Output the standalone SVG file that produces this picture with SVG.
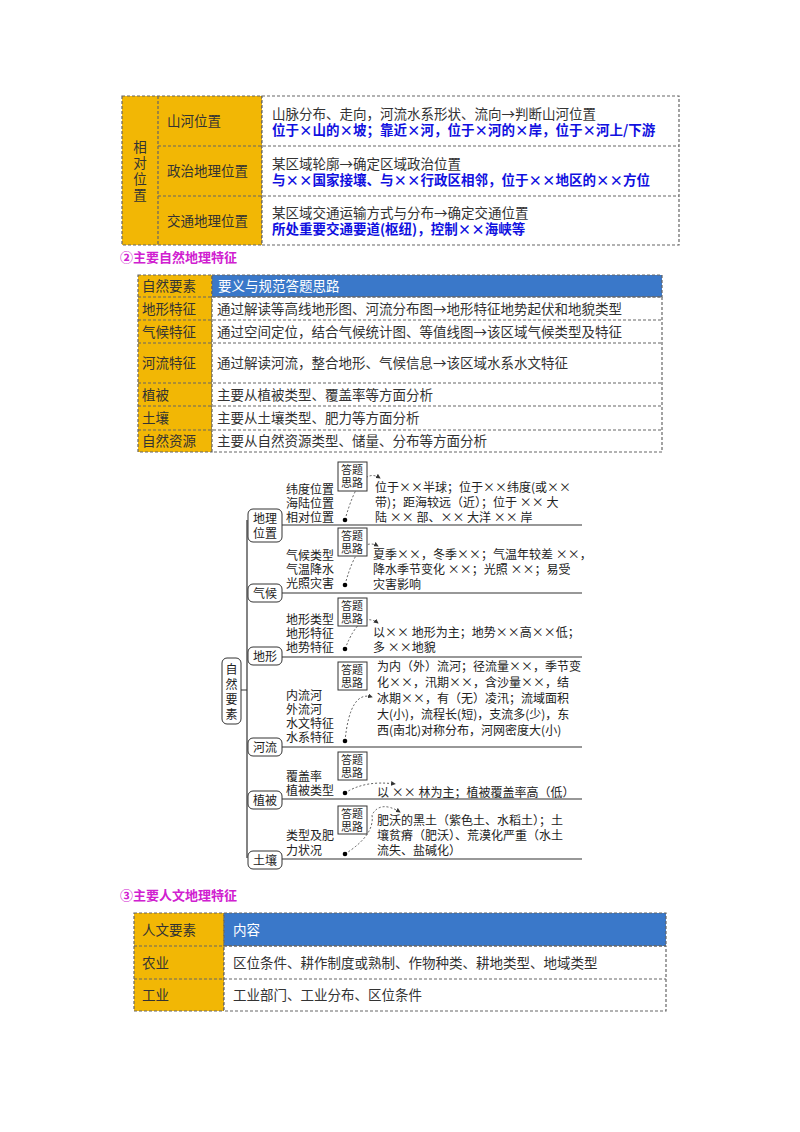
<svg xmlns="http://www.w3.org/2000/svg" width="800" height="1132" viewBox="0 0 800 1132">
<style>
text{font-family:"Noto Sans CJK SC","Liberation Serif",serif;}
.c{stroke:#666;stroke-width:1.2;stroke-dasharray:3,2;}
.y{fill:#F2B705;}
.w{fill:#fff;}
.b{fill:#3A78C9;}
.t{font-size:13.5px;fill:#333;}
.bl{font-size:13.5px;fill:#1010E0;font-weight:bold;}
.h{font-size:13px;fill:#D020D0;font-weight:bold;}
.m{font-size:12px;fill:#222;}
.s{font-size:11px;fill:#222;}
.k{fill:#fff;stroke:#333;stroke-width:1;}
.ln{stroke:#333;stroke-width:1.2;fill:none;}
.d{stroke:#333;stroke-width:0.8;stroke-dasharray:2,2;fill:none;}
</style>
<defs><marker id="a" markerWidth="6" markerHeight="6" refX="5" refY="3" orient="auto"><path d="M0,0L6,3L0,6z" fill="#333"/></marker></defs>
<g id="table1">
<rect x="122" y="96" width="140" height="149" class="y c"/>
<line x1="158" y1="96" x2="158" y2="245" class="c"/>
<rect x="262" y="96" width="417" height="149" class="w c"/>
<line x1="158" y1="146" x2="679" y2="146" class="c"/>
<line x1="158" y1="196" x2="679" y2="196" class="c"/>
<text class="t" x="140" y="152" text-anchor="middle">相</text>
<text class="t" x="140" y="168" text-anchor="middle">对</text>
<text class="t" x="140" y="184" text-anchor="middle">位</text>
<text class="t" x="140" y="200" text-anchor="middle">置</text>
<text class="t" x="167" y="126">山河位置</text>
<text class="t" x="167" y="176">政治地理位置</text>
<text class="t" x="167" y="226">交通地理位置</text>
<text class="t" x="272" y="119">山脉分布、走向，河流水系形状、流向→判断山河位置</text>
<text class="bl" x="272" y="135">位于×山的×坡；靠近×河，位于×河的×岸，位于×河上/下游</text>
<text class="t" x="272" y="169">某区域轮廓→确定区域政治位置</text>
<text class="bl" x="272" y="185">与××国家接壤、与××行政区相邻，位于××地区的××方位</text>
<text class="t" x="272" y="218">某区域交通运输方式与分布→确定交通位置</text>
<text class="bl" x="272" y="234">所处重要交通要道(枢纽)，控制××海峡等</text>
</g>
<text class="h" x="120" y="262">②主要自然地理特征</text>
<g id="table2">
<rect x="138" y="275" width="74" height="177" class="y c"/>
<rect x="212" y="275" width="450" height="22" class="b c"/>
<rect x="212" y="297" width="450" height="155" class="w c"/>
<line x1="138" y1="297" x2="662" y2="297" class="c"/>
<line x1="138" y1="320" x2="662" y2="320" class="c"/>
<line x1="138" y1="343" x2="662" y2="343" class="c"/>
<line x1="138" y1="383" x2="662" y2="383" class="c"/>
<line x1="138" y1="406" x2="662" y2="406" class="c"/>
<line x1="138" y1="430" x2="662" y2="430" class="c"/>
<text class="t" x="142" y="291">自然要素</text><text x="218" y="291" style="font-size:13.5px;fill:#fff">要义与规范答题思路</text>
<text class="t" x="142" y="314">地形特征</text><text class="t" x="217" y="314">通过解读等高线地形图、河流分布图→地形特征地势起伏和地貌类型</text>
<text class="t" x="142" y="337">气候特征</text><text class="t" x="217" y="337">通过空间定位，结合气候统计图、等值线图→该区域气候类型及特征</text>
<text class="t" x="142" y="368">河流特征</text><text class="t" x="217" y="368">通过解读河流，整合地形、气候信息→该区域水系水文特征</text>
<text class="t" x="142" y="400">植被</text><text class="t" x="217" y="400">主要从植被类型、覆盖率等方面分析</text>
<text class="t" x="142" y="423">土壤</text><text class="t" x="217" y="423">主要从土壤类型、肥力等方面分析</text>
<text class="t" x="142" y="446">自然资源</text><text class="t" x="217" y="446">主要从自然资源类型、储量、分布等方面分析</text>
</g>
<g id="connectors">
<path class="ln" d="M247,520V858M240,690H247"/>
<path class="ln" d="M282,525H582M282,593H582M282,657H582M282,747H582M282,799H582M282,859H582"/>
<path class="d" d="M345,520Q360,465 380,478" marker-end="url(#a)"/>
<path class="d" d="M345,585Q358,535 378,546" marker-end="url(#a)"/>
<path class="d" d="M345,649Q360,610 378,623" marker-end="url(#a)"/>
<path class="d" d="M345,741Q350,690 372,697" marker-end="url(#a)"/>
<path class="d" d="M345,793Q365,780 395,784" marker-end="url(#a)"/>
<path class="d" d="M345,854Q375,835 372,815Q380,800 400,812" marker-end="url(#a)"/>
<circle cx="345" cy="520" r="2.3" fill="#000"/><circle cx="345" cy="585" r="2.3" fill="#000"/><circle cx="345" cy="649" r="2.3" fill="#000"/>
<circle cx="345" cy="741" r="2.3" fill="#000"/><circle cx="345" cy="793" r="2.3" fill="#000"/><circle cx="345" cy="854" r="2.3" fill="#000"/>
</g>
<g id="mindmap">
<rect x="222" y="658" width="19" height="66" rx="5" class="k"/>
<text class="m" x="231.5" y="674" text-anchor="middle">自</text><text class="m" x="231.5" y="689" text-anchor="middle">然</text><text class="m" x="231.5" y="704" text-anchor="middle">要</text><text class="m" x="231.5" y="719" text-anchor="middle">素</text>
<rect x="248" y="509" width="34" height="33" rx="5" class="k"/><text class="m" x="253" y="523">地理</text><text class="m" x="253" y="538">位置</text>
<rect x="248" y="584" width="34" height="18" rx="5" class="k"/><text class="m" x="253" y="598">气候</text>
<rect x="248" y="647" width="34" height="18" rx="5" class="k"/><text class="m" x="253" y="661">地形</text>
<rect x="248" y="738" width="34" height="18" rx="5" class="k"/><text class="m" x="253" y="752">河流</text>
<rect x="248" y="791" width="34" height="18" rx="5" class="k"/><text class="m" x="253" y="805">植被</text>
<rect x="248" y="851" width="34" height="18" rx="5" class="k"/><text class="m" x="253" y="865">土壤</text>
<rect x="338" y="462" width="29" height="29" class="k"/><text class="s" x="341" y="474">答题</text><text class="s" x="341" y="487">思路</text>
<rect x="338" y="528" width="29" height="28" class="k"/><text class="s" x="341" y="540">答题</text><text class="s" x="341" y="553">思路</text>
<rect x="338" y="598" width="29" height="28" class="k"/><text class="s" x="341" y="610">答题</text><text class="s" x="341" y="623">思路</text>
<rect x="338" y="662" width="29" height="28" class="k"/><text class="s" x="341" y="674">答题</text><text class="s" x="341" y="687">思路</text>
<rect x="338" y="752" width="29" height="28" class="k"/><text class="s" x="341" y="764">答题</text><text class="s" x="341" y="777">思路</text>
<rect x="338" y="806" width="29" height="28" class="k"/><text class="s" x="341" y="818">答题</text><text class="s" x="341" y="831">思路</text>
<text class="m" x="286" y="494">纬度位置</text><text class="m" x="286" y="508">海陆位置</text><text class="m" x="286" y="522">相对位置</text>
<text class="m" x="286" y="560">气候类型</text><text class="m" x="286" y="574">气温降水</text><text class="m" x="286" y="588">光照灾害</text>
<text class="m" x="286" y="624">地形类型</text><text class="m" x="286" y="638">地形特征</text><text class="m" x="286" y="652">地势特征</text>
<text class="m" x="286" y="700">内流河</text><text class="m" x="286" y="714">外流河</text><text class="m" x="286" y="728">水文特征</text><text class="m" x="286" y="742">水系特征</text>
<text class="m" x="286" y="781">覆盖率</text><text class="m" x="286" y="795">植被类型</text>
<text class="m" x="286" y="840">类型及肥</text><text class="m" x="286" y="855">力状况</text>
<text class="m" x="375" y="492">位于××半球；位于××纬度(或××</text><text class="m" x="375" y="507">带)；距海较远（近）；位于 ×× 大</text><text class="m" x="375" y="522">陆 ×× 部、×× 大洋 ×× 岸</text>
<text class="m" x="373" y="559">夏季××，冬季××；气温年较差 ××，</text><text class="m" x="373" y="574">降水季节变化 ××；光照 ××；易受</text><text class="m" x="373" y="589">灾害影响</text>
<text class="m" x="373" y="637">以×× 地形为主；地势××高××低；</text><text class="m" x="373" y="652">多 ××地貌</text>
<text class="m" x="377" y="671">为内（外）流河；径流量××，季节变</text><text class="m" x="377" y="687">化××，汛期××，含沙量××，结</text><text class="m" x="377" y="703">冰期××，有（无）凌汛；流域面积</text><text class="m" x="377" y="719">大(小)，流程长(短)，支流多(少)，东</text><text class="m" x="377" y="735">西(南北)对称分布，河网密度大(小)</text>
<text class="m" x="377" y="797">以 ×× 林为主；植被覆盖率高（低）</text>
<text class="m" x="377" y="825">肥沃的黑土（紫色土、水稻土）；土</text><text class="m" x="377" y="840">壤贫瘠（肥沃）、荒漠化严重（水土</text><text class="m" x="377" y="855">流失、盐碱化）</text>
</g>
<text class="h" x="120" y="900">③主要人文地理特征</text>
<g id="table3">
<rect x="134" y="913" width="90" height="98" class="y c"/>
<rect x="224" y="913" width="442" height="33" class="b c"/>
<rect x="224" y="946" width="442" height="65" class="w c"/>
<line x1="134" y1="946" x2="666" y2="946" class="c"/>
<line x1="134" y1="979" x2="666" y2="979" class="c"/>
<text class="t" x="142" y="935">人文要素</text><text x="233" y="935" style="font-size:13.5px;fill:#fff">内容</text>
<text class="t" x="142" y="968">农业</text><text class="t" x="233" y="968">区位条件、耕作制度或熟制、作物种类、耕地类型、地域类型</text>
<text class="t" x="142" y="1000">工业</text><text class="t" x="233" y="1000">工业部门、工业分布、区位条件</text>
</g>
</svg>
